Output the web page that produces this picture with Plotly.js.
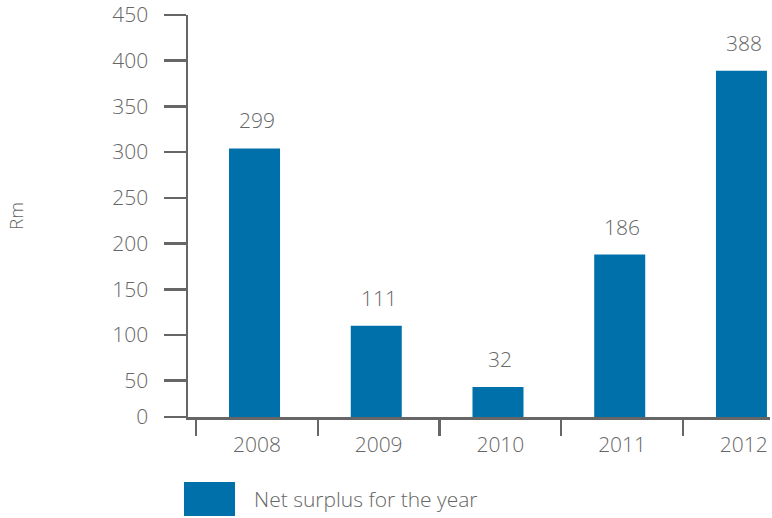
<!DOCTYPE html>
<html>
<head>
<meta charset="utf-8">
<script src="https://cdn.plot.ly/plotly-3.0.1.min.js"></script>
<style>html,body{margin:0;padding:0;background:#fff;}#chart{width:772px;height:518px;}</style>
</head>
<body>
<div id="chart"></div>
<script>
// Data
var years = ['2008', '2009', '2010', '2011', '2012'];
var barHeights = [304, 110, 43, 188, 389];        // drawn bar heights (Rm)
var valueLabels = ['299', '111', '32', '186', '388']; // printed values
var yTickVals = [10.3, 50, 100, 150, 200, 250, 300, 350, 400, 450];
var yTickText = ['0', '50', '100', '150', '200', '250', '300', '350', '400', '450'];
var seriesName = 'Net surplus for the year';
var yTitle = 'Rm';

var BLUE = '#0070AA';
var GREY = '#666666';
var FONT = '"Open Sans", "Segoe UI", sans-serif';

var trace = {
  type: 'bar',
  x: years,
  y: barHeights,
  name: seriesName,
  marker: {color: BLUE, line: {width: 0}},
  width: 0.419,
  offset: -0.229,
  hoverinfo: 'x+y',
  showlegend: false
};

var annotations = years.map(function (yr, i) {
  return {
    x: i, y: barHeights[i], xref: 'x', yref: 'y',
    text: valueLabels[i], showarrow: false,
    xanchor: 'center', yanchor: 'bottom', yshift: 12,
    font: {family: FONT, size: 21, color: GREY, weight: 300}
  };
});

// legend (drawn as a key box and its text)
annotations.push({
  xref: 'paper', yref: 'paper', x: 0.1100, y: -0.2041,
  xanchor: 'left', yanchor: 'middle', showarrow: false,
  text: seriesName,
  font: {family: FONT, size: 21, color: GREY, weight: 300}
});

var layout = {
  width: 772, height: 518,
  margin: {l: 188, r: 2, t: 15, b: 101, pad: 0},
  paper_bgcolor: '#ffffff', plot_bgcolor: '#ffffff',
  font: {family: FONT, size: 21, color: GREY, weight: 300},
  xaxis: {
    type: 'category',
    range: [-0.566, 4.215],
    tickson: 'boundaries',
    ticks: 'outside', ticklen: 16, tickwidth: 2.5, tickcolor: GREY,
    ticklabelstandoff: 7,
    showline: true, linecolor: GREY, linewidth: 2.5,
    showgrid: false, zeroline: false,
    tickfont: {family: FONT, size: 21, color: GREY, weight: 300},
    fixedrange: true
  },
  yaxis: {
    range: [10.3, 450],
    tickmode: 'array', tickvals: yTickVals, ticktext: yTickText,
    ticks: 'outside', ticklen: 22, tickwidth: 2.5, tickcolor: GREY,
    ticklabelstandoff: 11,
    showline: true, linecolor: GREY, linewidth: 2.5,
    showgrid: false, zeroline: false,
    tickfont: {family: FONT, size: 21, color: GREY, weight: 300},
    title: {text: yTitle, standoff: 84, font: {family: FONT, size: 19, color: GREY, weight: 300}},
    fixedrange: true
  },
  shapes: [{
    type: 'rect', xref: 'paper', yref: 'paper',
    x0: -0.0069, x1: 0.0808, y0: -0.2465, y1: -0.1618,
    fillcolor: BLUE, line: {width: 0}
  }],
  annotations: annotations,
  showlegend: false
};

Plotly.newPlot('chart', [trace], layout, {displayModeBar: false, staticPlot: true});
</script>
</body>
</html>
